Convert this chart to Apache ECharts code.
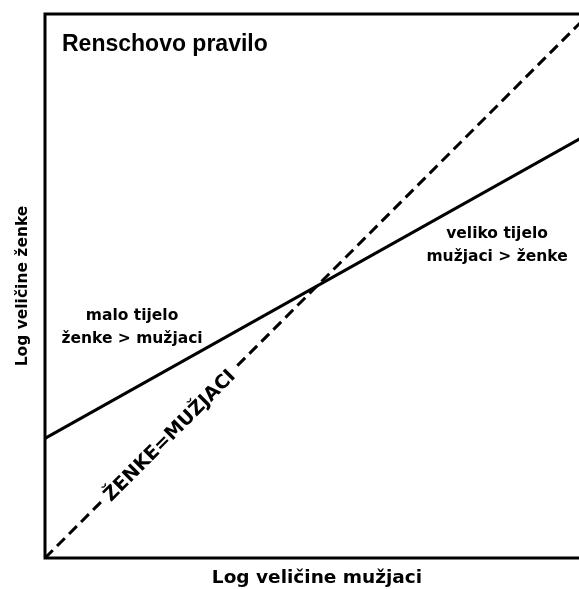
<!DOCTYPE html>
<html>
<head>
<meta charset="utf-8">
<script src="https://cdn.jsdelivr.net/npm/echarts@6/dist/echarts.min.js"></script>
<style>
html,body{margin:0;padding:0;background:#fff;}
#chart{width:579px;height:589px;}
</style>
</head>
<body>
<div id="chart"></div>
<script>
// Data
const equalityLine = [[0, 0], [10, 10]];          // ženke = mužjaci
const renschLine = [[0, 2.2], [10, 7.8]];         // Rensch's rule slope
const annotations = [
  { name: 'malo tijelo\nženke > mužjaci', value: [1.6, 4.23] },
  { name: 'veliko tijelo\nmužjaci > ženke', value: [8.31, 5.75] }
];
const diagLabel = { name: 'ŽENKE=MUŽJACI', value: [2.3, 2.24] };
const titleText = 'Renschovo pravilo';
const xName = 'Log veličine mužjaci';
const yName = 'Log veličine ženke';

const chart = echarts.init(document.getElementById('chart'), null, { renderer: 'canvas' });
const option = {
  animation: false,
  backgroundColor: '#fff',
  title: {
    text: titleText,
    left: 57, top: 28,
    textStyle: { fontFamily: 'Liberation Sans', fontWeight: 'bold', fontSize: 23, color: '#000' }
  },
  grid: {
    left: 45, top: 14, width: 544, height: 544,
    outerBoundsMode: 'none', containLabel: false,
    show: true, borderColor: '#000', borderWidth: 3, backgroundColor: 'transparent'
  },
  xAxis: {
    type: 'value', min: 0, max: 10,
    name: xName, nameLocation: 'middle', nameGap: 11,
    nameTextStyle: { fontFamily: 'DejaVu Sans', fontWeight: 'bold', fontSize: 18.5, color: '#000' },
    axisLine: { show: false }, axisTick: { show: false }, axisLabel: { show: false }, splitLine: { show: false }
  },
  yAxis: {
    type: 'value', min: 0, max: 10,
    name: yName, nameLocation: 'middle', nameGap: 14, nameRotate: 90,
    nameTextStyle: { fontFamily: 'DejaVu Sans', fontWeight: 'bold', fontSize: 15.5, color: '#000' },
    axisLine: { show: false }, axisTick: { show: false }, axisLabel: { show: false }, splitLine: { show: false }
  },
  series: [
    {
      type: 'line', data: equalityLine, symbol: 'none', z: 2, clip: true,
      lineStyle: { color: '#000', width: 3, type: [11, 6] }
    },
    {
      type: 'line', data: renschLine, symbol: 'none', z: 2, clip: true,
      lineStyle: { color: '#000', width: 3 }
    },
    {
      type: 'scatter', data: annotations, symbolSize: 0, z: 5,
      itemStyle: { opacity: 1 },
      label: {
        show: true, position: 'inside', formatter: '{b}',
        fontFamily: 'DejaVu Sans', fontWeight: 'bold', fontSize: 15.5, lineHeight: 23,
        color: '#000', textBorderWidth: 0, align: 'center', verticalAlign: 'middle'
      }
    },
    {
      type: 'scatter', data: [diagLabel], symbolSize: 0, z: 6,
      itemStyle: { opacity: 1 },
      label: {
        show: true, position: 'inside', formatter: '{b}', rotate: 45,
        fontFamily: 'DejaVu Sans', fontWeight: 'bold', fontSize: 19,
        color: '#000', textBorderWidth: 0, backgroundColor: '#fff', padding: [0, 5],
        align: 'center', verticalAlign: 'middle'
      }
    }
  ]
};
chart.setOption(option);
</script>
</body>
</html>
